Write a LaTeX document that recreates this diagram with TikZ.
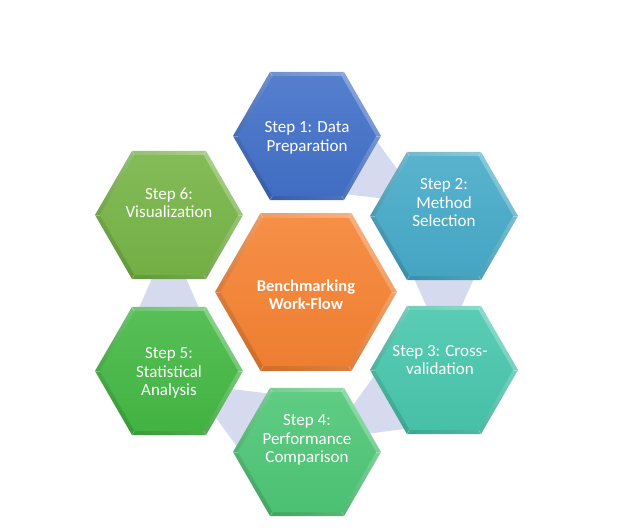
\documentclass[tikz,border=0pt]{standalone}
\usepackage{fontspec}
\setmainfont{Carlito}
\usetikzlibrary{shapes.geometric,calc}
\definecolor{cone}{RGB}{66,112,200}
\definecolor{ctwo}{RGB}{70,170,200}
\definecolor{cthree}{RGB}{72,198,172}
\definecolor{cfour}{RGB}{78,198,118}
\definecolor{cfive}{RGB}{68,184,68}
\definecolor{csix}{RGB}{118,180,70}
\definecolor{cmid}{RGB}{245,130,50}
\definecolor{lav}{RGB}{214,218,238}
\tikzset{
  hexo/.style={regular polygon, regular polygon sides=6, inner sep=0pt, draw=none},
  lbl/.style={text=white, align=center, inner sep=0pt, font=\fontsize{17}{18.5}\selectfont},
  midlbl/.style={text=white, align=center, inner sep=0pt, font=\bfseries\fontsize{16.5}{17.5}\selectfont},
  link/.style={fill=lav, draw=none}
}
\newcommand\hexcell[5]{%
  \node[hexo, minimum size=#4, top color=#3!65!white, bottom color=#3!85!black, shading angle=-35] (#1) at (#2) {};
  \node[hexo, minimum size=#5, top color=#3!90!white, bottom color=#3!97!black] (#1i) at (#2) {};
  \foreach \k in {1,...,6}{\draw[white, opacity=.3, line width=.7pt] (#1.corner \k) -- (#1i.corner \k);}
}
\newcommand\linkpiece[2]{%
  \fill[link] ($(#1)!58pt!90:(#2)$) -- ($(#1)!0.84!(#2)$) -- ($(#1)!58pt!-90:(#2)$) -- cycle;
}
\begin{document}
\begin{tikzpicture}[x=1pt,y=-1pt]
\fill[white] (0,0) rectangle (632,530);
\useasboundingbox (0,0) rectangle (632,530);
\coordinate (p1) at (307,136);
\coordinate (p2) at (444,216);
\coordinate (p3) at (444,370);
\coordinate (p4) at (307,452);
\coordinate (p5) at (169,371);
\coordinate (p6) at (169,215);
\coordinate (pm) at (306,292);
\linkpiece{p1}{p2}
\linkpiece{p2}{p3}
\linkpiece{p3}{p4}
\linkpiece{p4}{p5}
\linkpiece{p5}{p6}
\hexcell{h1}{p1}{cone}{148pt}{138pt}
\hexcell{h2}{p2}{ctwo}{148pt}{138pt}
\hexcell{h3}{p3}{cthree}{148pt}{138pt}
\hexcell{h4}{p4}{cfour}{148pt}{138pt}
\hexcell{h5}{p5}{cfive}{148pt}{138pt}
\hexcell{h6}{p6}{csix}{148pt}{138pt}
\hexcell{hm}{pm}{cmid}{182pt}{171pt}
\node[lbl] (t1) at (307,138) {Step 1: Data\\Preparation};
\node[lbl] (t2) at (444,203) {Step 2:\\Method\\Selection};
\node[lbl] (t3) at (440,360) {Step 3: Cross-\\validation};
\node[lbl] (t4) at (307,440) {Step 4:\\Performance\\Comparison};
\node[lbl] (t5) at (169,373) {Step 5:\\Statistical\\Analysis};
\node[lbl] (t6) at (169,203) {Step 6:\\Visualization};
\node[midlbl] (tm) at (306,295) {Benchmarking\\Work-Flow};
\end{tikzpicture}
\end{document}
